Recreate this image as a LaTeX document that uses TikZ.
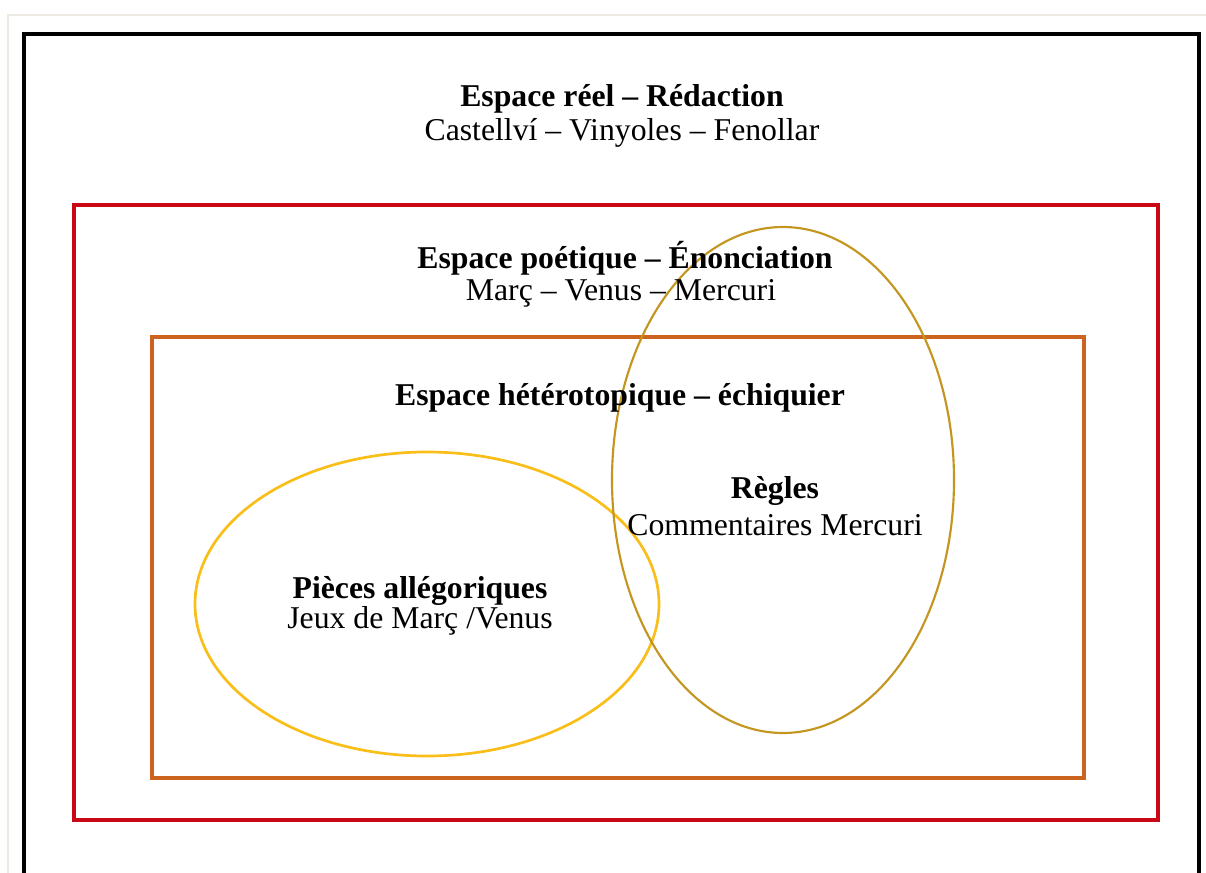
\documentclass[tikz,border=0pt]{standalone}
\usepackage{fontspec}
\setmainfont{Liberation Serif}
\definecolor{pageframe}{RGB}{236,234,226}
\definecolor{reelred}{RGB}{200,8,20}
\definecolor{heteroorange}{RGB}{204,100,32}
\definecolor{piecesyellow}{RGB}{250,190,24}
\definecolor{reglesgold}{RGB}{196,150,32}
\tikzset{
	spacetext/.style={black, anchor=base, inner sep=0pt, font=\fontsize{23.8}{25}\selectfont},
	spacetitle/.style={spacetext, font=\fontsize{23.8}{25}\selectfont\bfseries},
}
\begin{document}
\begin{tikzpicture}[x=0.75pt, y=-0.75pt]
		\useasboundingbox (0,0) rectangle (1206,873);
		\fill[white] (0,0) rectangle (1206,873);
		\draw[draw=pageframe, line width=2.2pt] (8,873) -- (8,15) -- (1206,15);
		\draw[draw=black, line width=2.6pt] (24,873) -- (24,34) -- (1199,34) -- (1199,873);
		\draw[draw=reelred, line width=2.6pt] (74,205) rectangle (1158,820);
		\draw[draw=heteroorange, line width=2.6pt] (152,337) rectangle (1084,778);
		\draw[draw=piecesyellow, line width=2pt] (427,604) ellipse [x radius=232, y radius=152];
		\draw[draw=reglesgold, line width=1.6pt] (783,480) ellipse [x radius=171, y radius=253];
		\node[spacetitle] (reeltitle) at (622,107) {Espace réel – Rédaction};
		\node[spacetext] (reelnames) at (622,141) {Castellví – Vinyoles – Fenollar};
		\node[spacetitle] (poetictitle) at (625,269) {Espace poétique – Énonciation};
		\node[spacetext] (poeticnames) at (621,301) {Març – Venus – Mercuri};
		\node[spacetitle] (heterotitle) at (620,406) {Espace hétérotopique – échiquier};
		\node[spacetitle] (reglestitle) at (775,498) {Règles};
		\node[spacetext] (reglesnames) at (775,535) {Commentaires Mercuri};
		\node[spacetitle] (piecestitle) at (420,598) {Pièces allégoriques};
		\node[spacetext] (piecesnames) at (420,628) {Jeux de Març /Venus};
	\end{tikzpicture}
\end{document}
